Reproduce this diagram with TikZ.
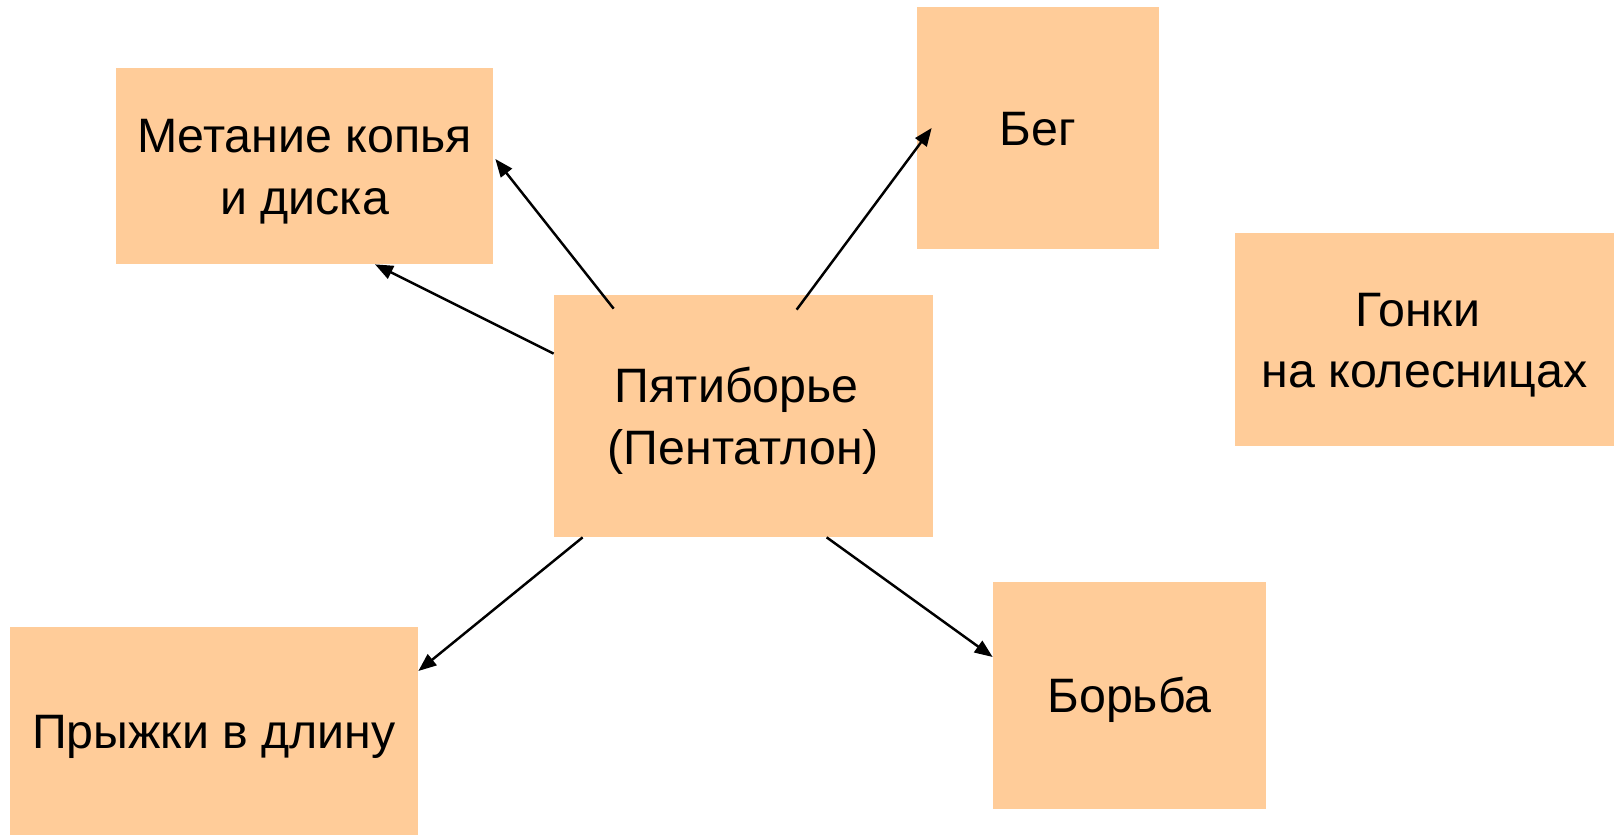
\documentclass[tikz,border=0pt]{standalone}
\usepackage{fontspec}
\setmainfont{Liberation Sans}
\usepackage{xcolor}
\usetikzlibrary{calc}
\usetikzlibrary{arrows.meta}
\definecolor{peach}{HTML}{FFCC99}

\begin{document}
\begin{tikzpicture}[
  sport/.style={rectangle, fill=peach, inner sep=0, align=center,
    font=\fontsize{27.5}{35}\selectfont, text height=19.7pt, text depth=0pt},
  twoline/.style={text height=54.7pt},
  link/.style={black, line width=1.4pt, -{Triangle[length=0.36cm,width=0.28cm]}}]
\useasboundingbox (0,0) rectangle (32.38,16.7);

\node[sport, twoline, minimum width=7.54cm, minimum height=3.92cm] (metanie) at (6.09,13.38) {Метание копья\\и диска};
\node[sport, minimum width=4.84cm, minimum height=4.84cm] (beg) at (20.76,14.14) {Бег};
\node[sport, twoline, minimum width=7.58cm, minimum height=4.26cm] (gonki) at (28.49,9.91) {Гонки\hspace*{.28em}\\на колесницах};
\node[sport, twoline, minimum width=7.58cm, minimum height=4.84cm] (penta) at (14.87,8.38) {Пятиборье\hspace*{.28em}\\(Пентатлон)};
\node[sport, minimum width=8.16cm, minimum height=4.16cm] (pryzhki) at (4.28,2.08) {Прыжки в длину};
\node[sport, minimum width=5.46cm, minimum height=4.54cm] (borba) at (22.59,2.79) {Борьба};

\draw[link] ($(penta.north west)+(1.2,-.28)$) -- ($(metanie.east)+(.04,.14)$);
\draw[link] ($(penta.north west)+(0,-1.18)$) -- ($(metanie.south)+(1.41,0)$);
\draw[link] ($(penta.north west)+(4.86,-.3)$) -- ($(beg.west)+(.3,0)$);
\draw[link] ($(penta.south west)+(.58,0)$) -- ($(pryzhki.east)+(0,1.2)$);
\draw[link] ($(penta.south west)+(5.46,0)$) -- ($(borba.west)+(0,.77)$);
\end{tikzpicture}
\end{document}
